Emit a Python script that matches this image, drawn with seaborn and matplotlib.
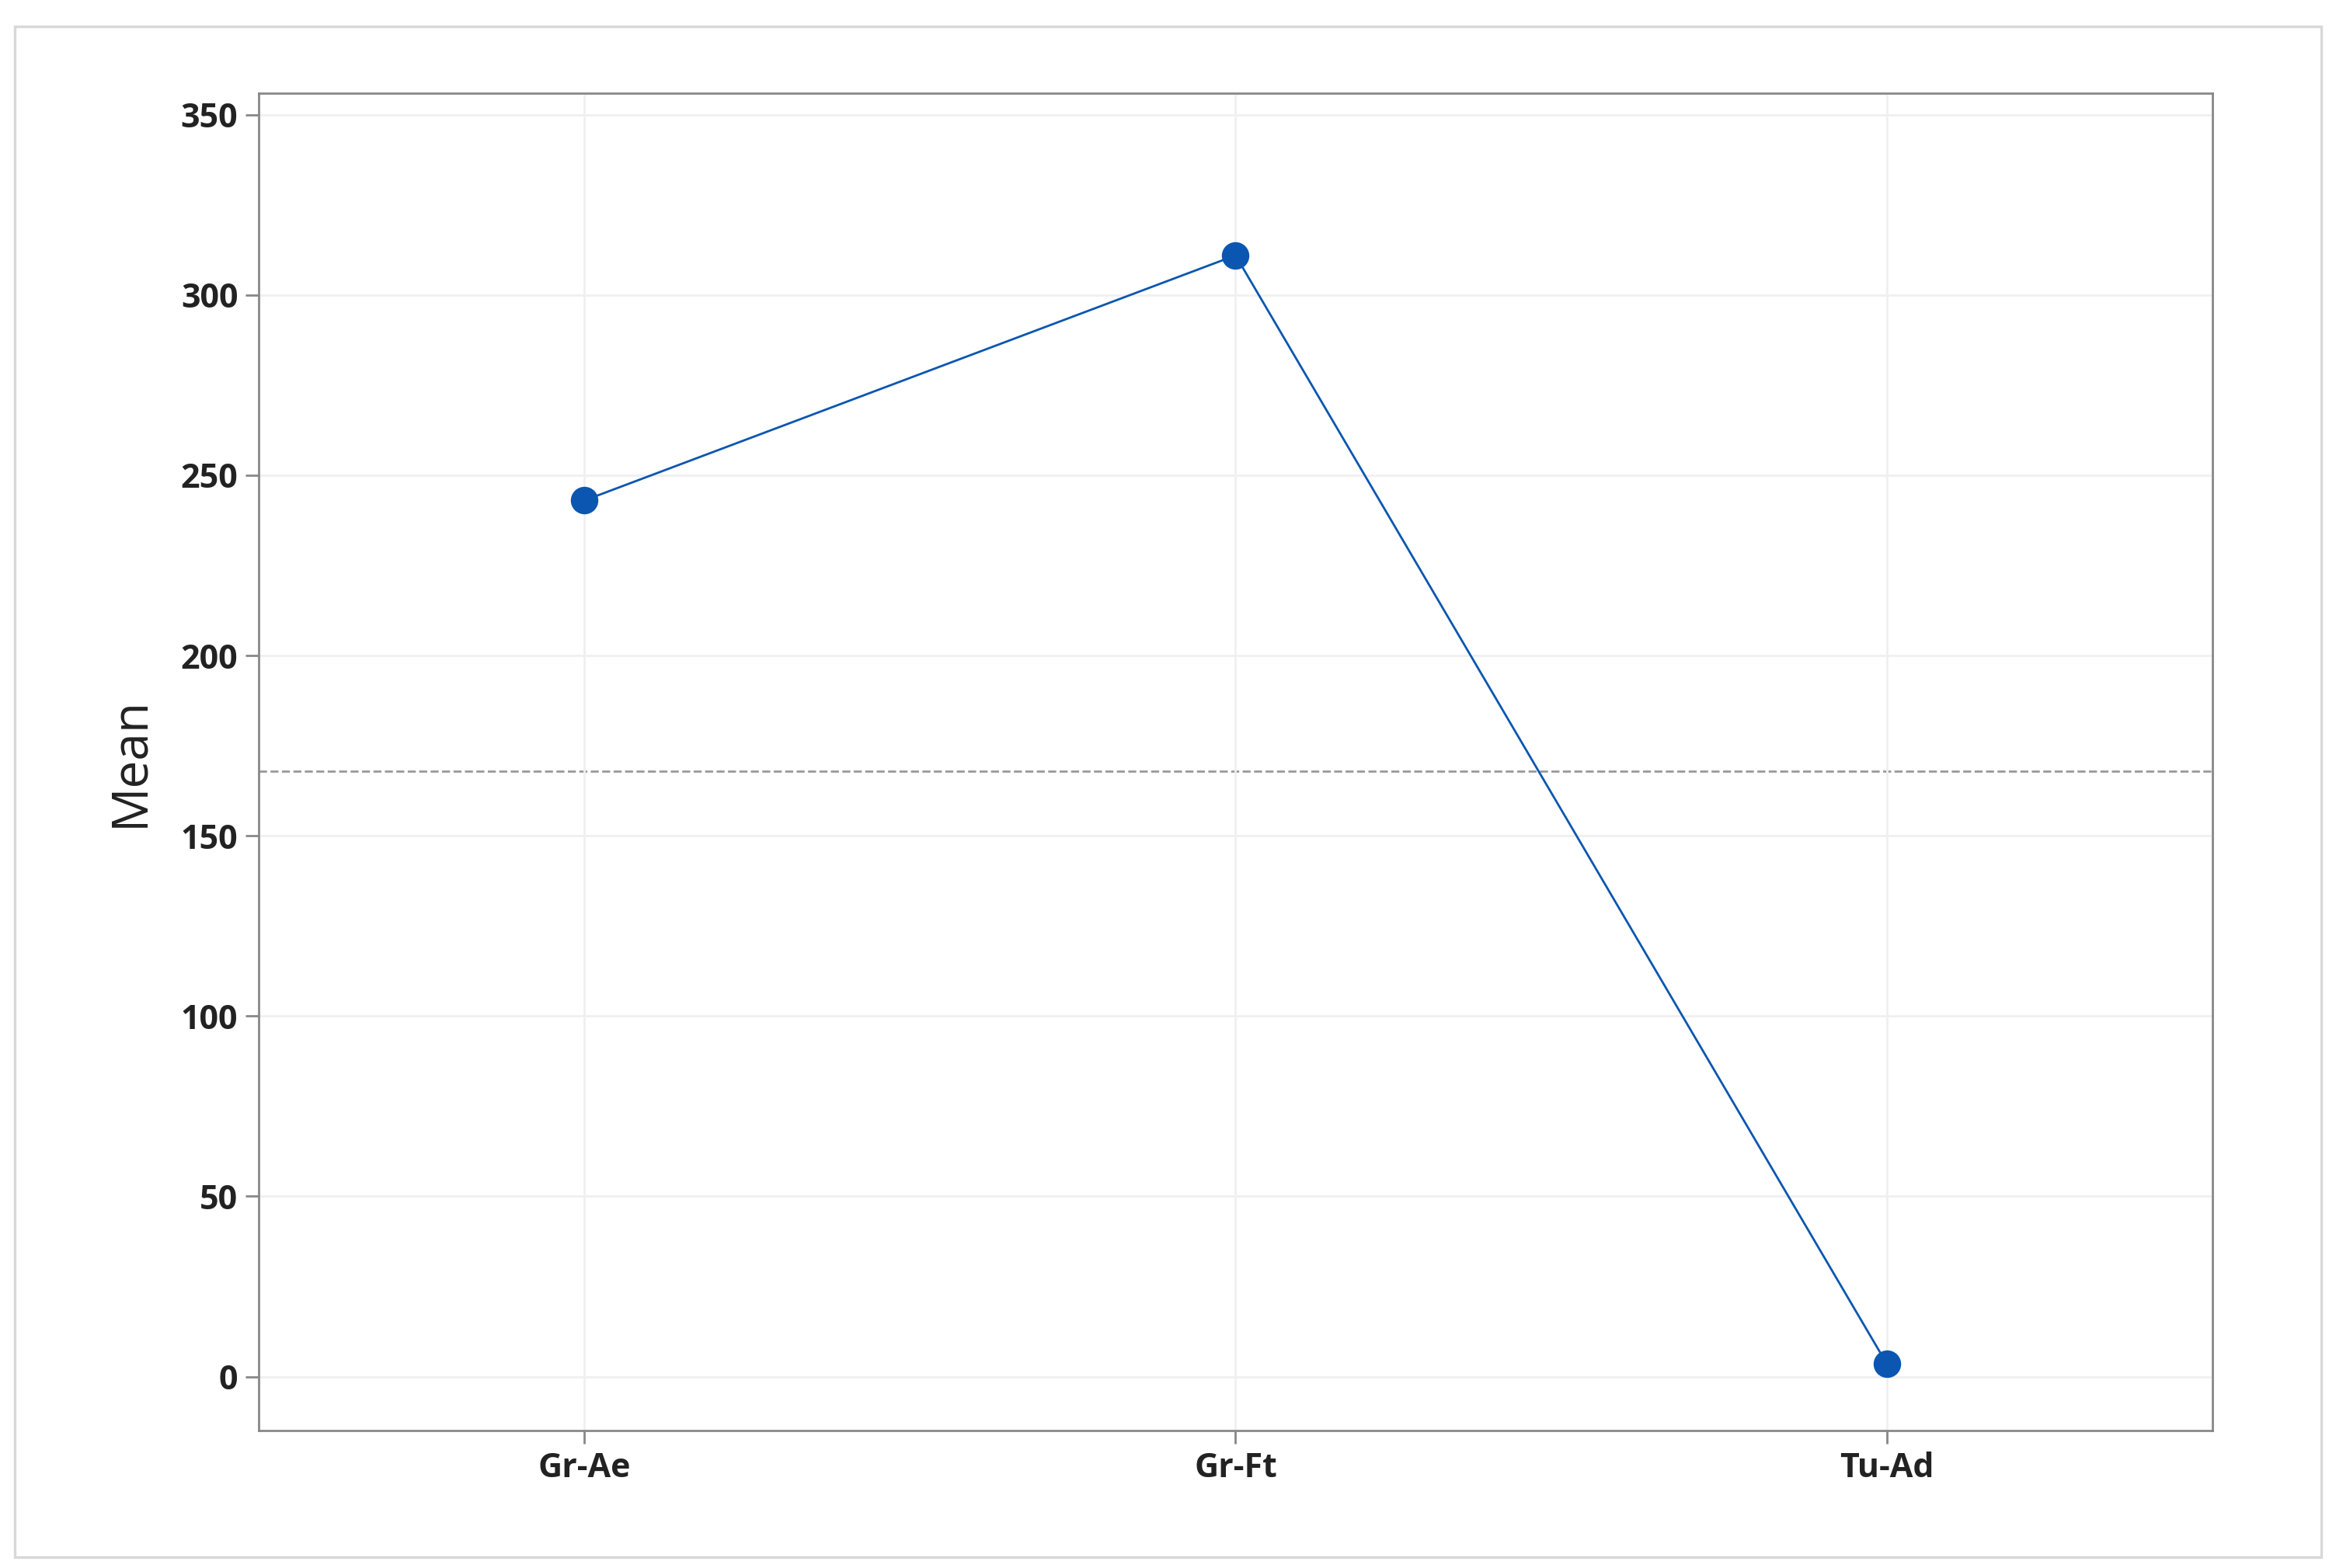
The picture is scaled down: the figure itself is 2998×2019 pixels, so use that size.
import matplotlib.pyplot as plt
import matplotlib.patches as mpatches
import seaborn as sns
import pandas as pd

# Data
groups = ['Gr-Ae', 'Gr-Ft', 'Tu-Ad']
means = [243, 311, 3.5]
overall_mean = 168

LINE_COLOR = '#0a56b0'

sns.set_theme(style='white')
plt.rcParams['font.family'] = ['Open Sans', 'DejaVu Sans']

df = pd.DataFrame({'group': groups, 'mean': means})
df['x'] = range(len(groups))

fig = plt.figure(figsize=(14.99, 10.095), dpi=200)
ax = fig.add_axes([0.111, 0.0876, 0.839, 0.853])

sns.lineplot(data=df, x='x', y='mean', ax=ax, color=LINE_COLOR, linewidth=1.0,
             marker='o', markersize=12, markeredgecolor=LINE_COLOR,
             markerfacecolor=LINE_COLOR)
ax.axhline(overall_mean, color='#999999', linestyle='--', linewidth=1.0, zorder=0)

ax.set_xlim(-0.5, 2.5)
ax.set_ylim(-15, 356)
ax.set_xticks(df['x'])
ax.set_xticklabels(groups)
ax.set_yticks(range(0, 351, 50))
ax.grid(True, color='#f0f0f0', linewidth=1.0)
ax.set_axisbelow(True)

for s in ax.spines.values():
    s.set_color('#888888')
    s.set_linewidth(1.0)
ax.tick_params(axis='both', length=6, width=1, color='#888888', labelsize=15.5,
               labelcolor='#222222', direction='out', bottom=True, left=True)
for lab in ax.get_xticklabels() + ax.get_yticklabels():
    lab.set_fontweight('bold')

ax.set_xlabel('')
ax.set_ylabel('Mean', fontsize=23, color='#222222', labelpad=12)

# Outer frame
fig.patches.append(mpatches.Rectangle((0.0065, 0.007), 0.99, 0.976, transform=fig.transFigure,
                                      fill=False, edgecolor='#d8d8d8', linewidth=1.2))

plt.savefig('out.png', dpi=200)
plt.close()
